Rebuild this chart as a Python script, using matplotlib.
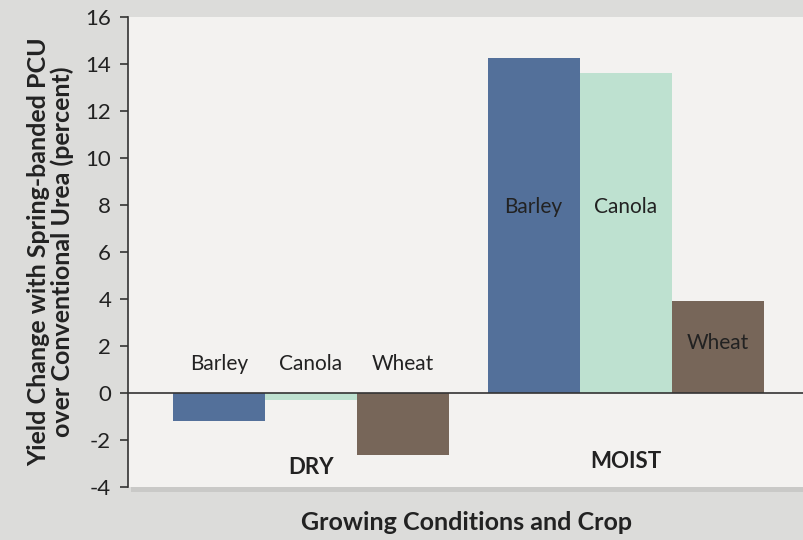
import numpy as np
from matplotlib import pyplot as plt
from matplotlib.patches import Rectangle

conditions = ['DRY', 'MOIST']
crops = ['Barley', 'Canola', 'Wheat']
dry_values = [-1.2, -0.3, -2.65]
moist_values = [14.25, 13.6, 3.92]
crop_colors = ['#53709A', '#BEE1D0', '#776659']
y_ticks = list(range(-4, 17, 2))

plt.rcParams['font.family'] = ['Lato', 'DejaVu Sans']
plt.rcParams['axes.unicode_minus'] = False

fig = plt.figure(figsize=(8.04, 5.40), dpi=100, facecolor='#DCDCDA')
ax = fig.add_axes([0.159, 0.098, 0.841, 0.8705])
ax.set_facecolor('#F3F2F0')

# soft shadow behind plot area
fig.patches.append(Rectangle((0.163, 0.088), 0.84, 0.8705, transform=fig.transFigure,
                             facecolor='#B8B8B6', alpha=0.5, zorder=-1))

group_gap = 3.42
for g, vals in enumerate([dry_values, moist_values]):
    x = g * group_gap + np.arange(len(crops))
    ax.bar(x, vals, width=1.0, color=crop_colors, zorder=2)

# crop labels
for i, crop in enumerate(crops):
    ax.text(i, 1.25, crop, ha='center', va='center', fontsize=15, color='#222222')
moist_label_y = [7.9, 7.9, 2.15]
for i, crop in enumerate(crops):
    ax.text(group_gap + i, moist_label_y[i], crop, ha='center', va='center',
            fontsize=15, color='#222222', zorder=3)

ax.text(1, -3.15, conditions[0], ha='center', va='center', fontsize=16,
        fontweight='bold', color='#222222')
ax.text(group_gap + 1, -2.9, conditions[1], ha='center', va='center', fontsize=16,
        fontweight='bold', color='#222222')

ax.axhline(0, color='#333333', linewidth=1.2, zorder=3)

ax.set_xlim(-0.99, 6.36)
ax.set_ylim(-4, 16)
ax.set_yticks(y_ticks)
ax.set_xticks([])
ax.tick_params(axis='y', direction='out', length=6, width=1.2, color='#333333',
               labelsize=16, labelcolor='#222222', pad=6)
for side in ['top', 'right', 'bottom']:
    ax.spines[side].set_visible(False)
ax.spines['left'].set_color('#333333')
ax.spines['left'].set_linewidth(1.2)

ax.set_ylabel('Yield Change with Spring-banded PCU\nover Conventional Urea (percent)',
              fontsize=18, fontweight='bold', color='#222222', labelpad=8,
              linespacing=1.0)
fig.text(0.58, 0.032, 'Growing Conditions and Crop', ha='center', va='center',
         fontsize=18, fontweight='bold', color='#222222')

plt.savefig('out.png', dpi=100, facecolor=fig.get_facecolor())
